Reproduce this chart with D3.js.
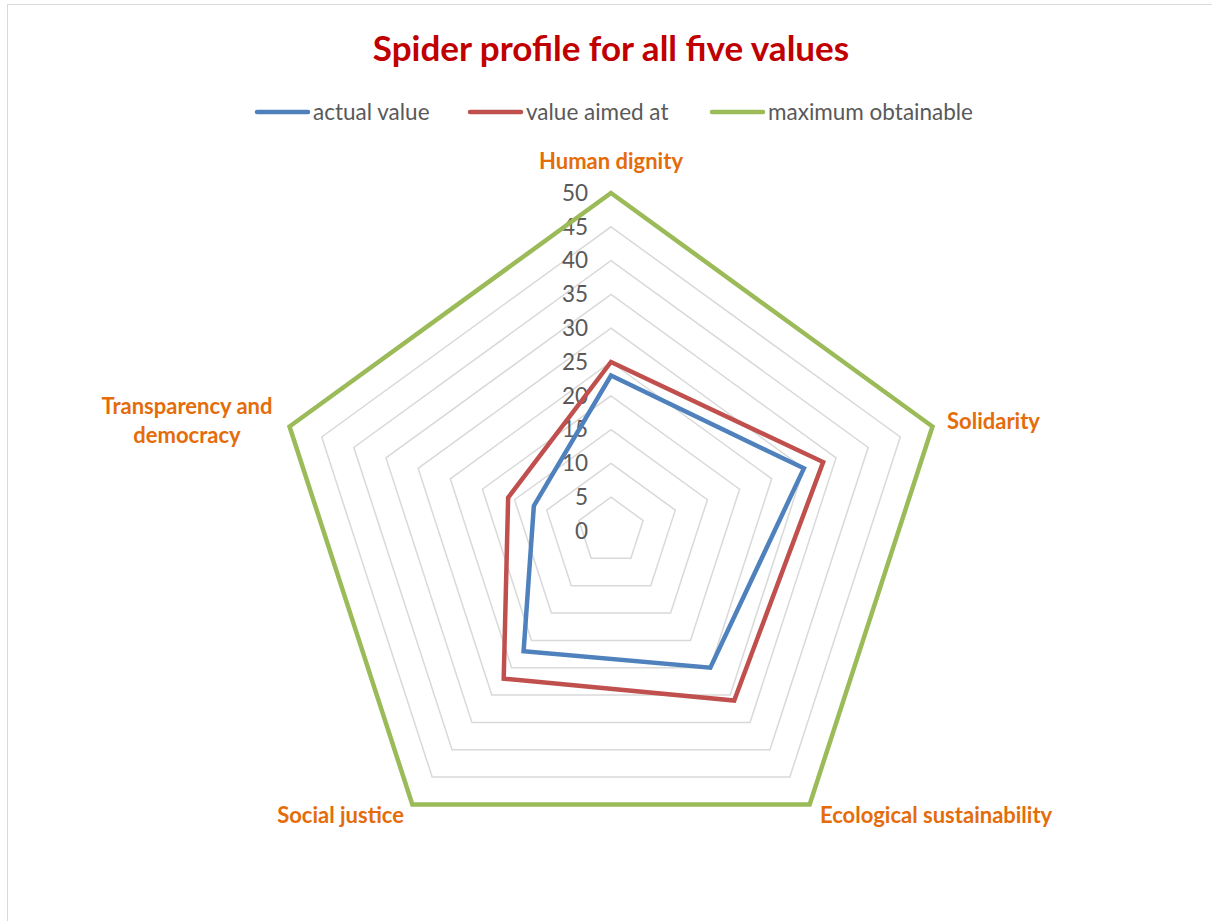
<!DOCTYPE html>
<html>
<head>
<meta charset="utf-8">
<script src="https://cdn.jsdelivr.net/npm/d3@7"></script>
<style>
  html, body { margin: 0; padding: 0; background: #fff; }
  svg { display: block; }
</style>
</head>
<body>
<svg id="chart" width="1212" height="921"></svg>
<script>
const categories = ["Human dignity", "Solidarity", "Ecological sustainability", "Social justice", "Transparency and democracy"];
const actualValue = [23, 30, 25, 22, 12];
const valueAimedAt = [25, 33, 31, 27, 16];
const maximumObtainable = [50, 50, 50, 50, 50];
const seriesNames = ["actual value", "value aimed at", "maximum obtainable"];
const tickValues = [0, 5, 10, 15, 20, 25, 30, 35, 40, 45, 50];

const colors = ["#4f81bd", "#c0504d", "#9bbb59"];
const series = [actualValue, valueAimedAt, maximumObtainable];

const svg = d3.select("#chart");
const W = 1212, H = 921;
const cx = 611, cy = 531, R = 338;
const font = "Lato, 'Open Sans', sans-serif";

// chart border
svg.append("rect").attr("x", 7.5).attr("y", 4.5).attr("width", W).attr("height", H)
  .attr("fill", "#fff").attr("stroke", "#d9d9d9").attr("stroke-width", 1);

const r = d3.scaleLinear().domain([0, 50]).range([0, R]);
const angle = d3.scaleLinear().domain([0, categories.length]).range([0, 2 * Math.PI]);

const pt = (i, v) => [cx + r(v) * Math.sin(angle(i)), cy - r(v) * Math.cos(angle(i))];
const line = d3.line();

// grid rings
tickValues.filter(t => t > 0 && t < 50).forEach(t => {
  const pts = categories.map((c, i) => pt(i, t));
  svg.append("path").attr("d", line(pts) + "Z")
    .attr("fill", "none").attr("stroke", "#d9d9d9").attr("stroke-width", 1.5);
});

// tick labels
svg.append("g").selectAll("text").data(tickValues).join("text")
  .attr("x", cx - 23).attr("y", d => cy - r(d))
  .attr("dy", "0.35em")
  .attr("text-anchor", "end")
  .attr("font-family", font).attr("font-size", 22.5).attr("fill", "#595959")
  .text(d => d);

// series
series.forEach((vals, s) => {
  const pts = vals.map((v, i) => pt(i, v));
  svg.append("path").attr("d", line(pts) + "Z")
    .attr("fill", "none").attr("stroke", colors[s]).attr("stroke-width", 4.5)
    .attr("stroke-linejoin", "miter");
});

// category labels
const labelPos = [
  { x: 611, y: 169, anchor: "middle" },
  { x: 947, y: 429, anchor: "start" },
  { x: 820, y: 823, anchor: "start" },
  { x: 404, y: 823, anchor: "end" },
  { x: 187, y: 414, anchor: "middle" }
];
const catLines = [["Human dignity"], ["Solidarity"], ["Ecological sustainability"], ["Social justice"], ["Transparency and", "democracy"]];
categories.forEach((c, i) => {
  const t = svg.append("text")
    .attr("x", labelPos[i].x).attr("y", labelPos[i].y)
    .attr("text-anchor", labelPos[i].anchor)
    .attr("font-family", font).attr("font-weight", "bold").attr("font-size", 22).attr("fill", "#e46c0a");
  catLines[i].forEach((l, j) => {
    t.append("tspan").attr("x", labelPos[i].x).attr("dy", j === 0 ? 0 : 29).text(l);
  });
});

// title
svg.append("text").attr("x", 611).attr("y", 61).attr("text-anchor", "middle")
  .attr("font-family", font).attr("font-weight", "bold").attr("font-size", 35).attr("fill", "#c00000")
  .text("Spider profile for all five values");

// legend
const legendX = [257, 470, 712];
seriesNames.forEach((n, s) => {
  const g = svg.append("g").attr("transform", `translate(${legendX[s]},112)`);
  g.append("line").attr("x1", 0).attr("x2", 51).attr("y1", 0).attr("y2", 0)
    .attr("stroke", colors[s]).attr("stroke-width", 4.5).attr("stroke-linecap", "round");
  g.append("text").attr("x", 56).attr("y", 0).attr("dy", "0.35em")
    .attr("font-family", font).attr("font-size", 22.5).attr("fill", "#595959").text(n);
});
</script>
</body>
</html>
